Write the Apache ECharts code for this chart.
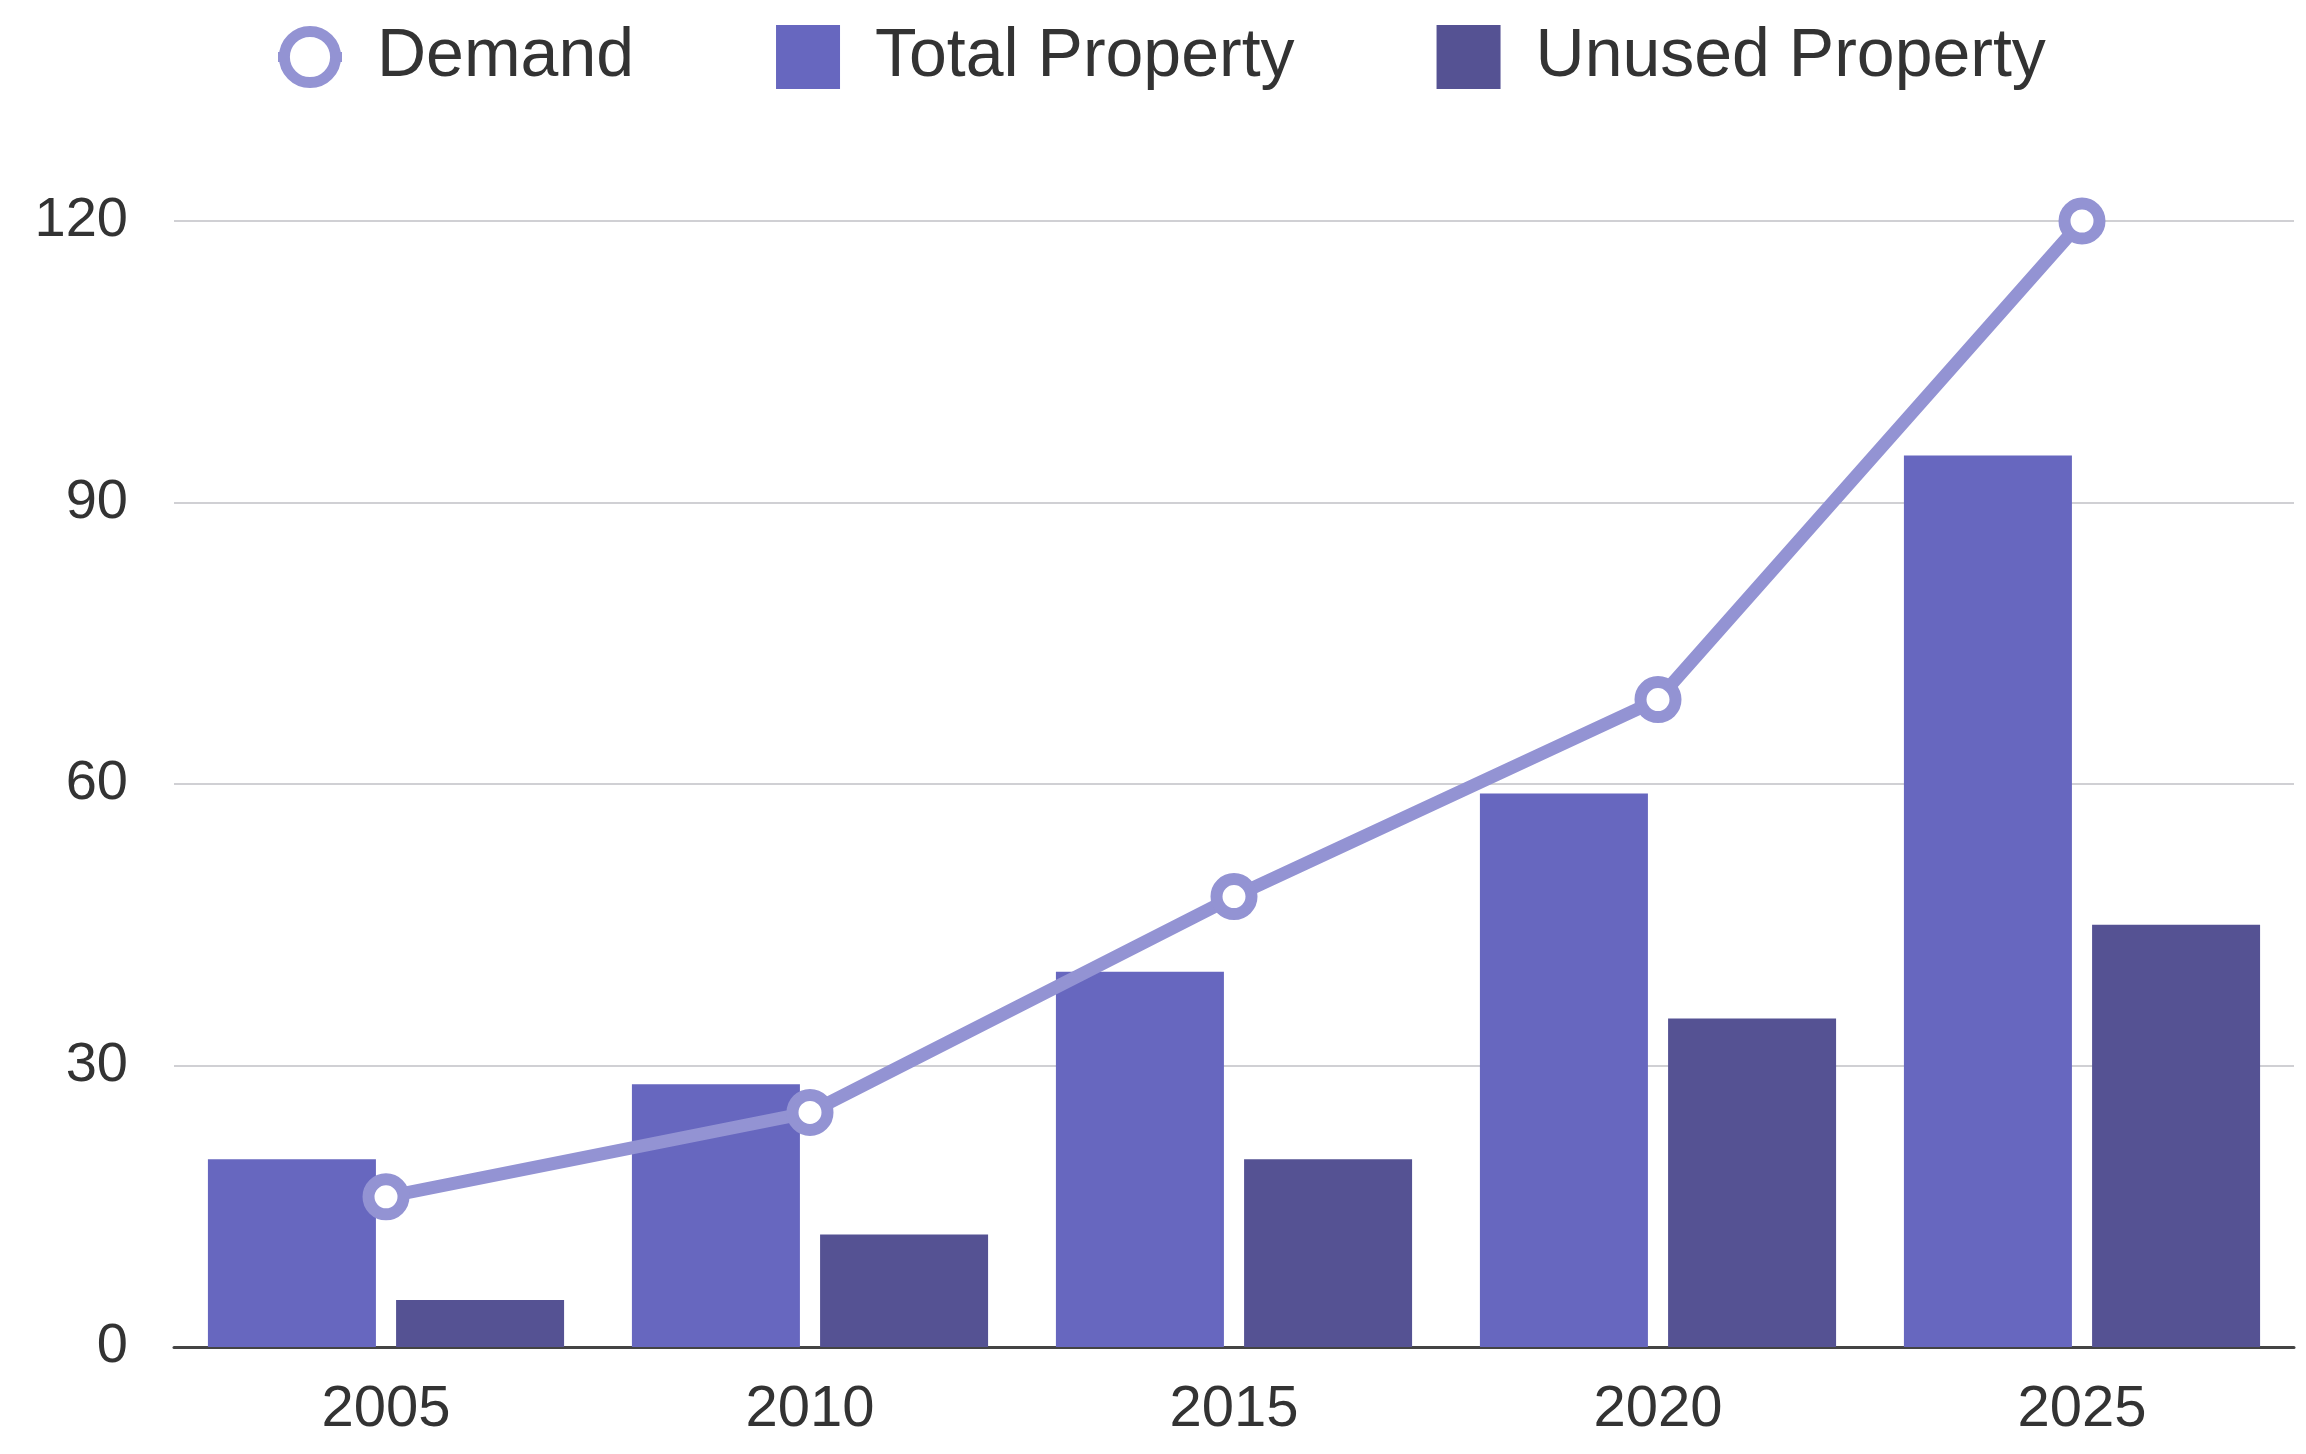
<!DOCTYPE html>
<html>
<head>
<meta charset="utf-8">
<script src="https://cdn.jsdelivr.net/npm/echarts@6/dist/echarts.min.js"></script>
<style>
html,body{margin:0;padding:0;background:#fff;}
#chart{width:2306px;height:1454px;}
</style>
</head>
<body>
<div id="chart"></div>
<script>
const categories = ['2005', '2010', '2015', '2020', '2025'];
const demand = [16, 25, 48, 69, 120];
const totalProperty = [20, 28, 40, 59, 95];
const unusedProperty = [5, 12, 20, 35, 45];
const yTicks = { min: 0, max: 120, interval: 30 };

const FONT = "'Liberation Sans', Arial, Helvetica, sans-serif";
const LINE_COLOR = '#9393D3';
const chart = echarts.init(document.getElementById('chart'), null, { renderer: 'canvas' });
chart.setOption({
  backgroundColor: '#ffffff',
  animation: false,
  legend: {
    top: 18,
    left: 268,
    itemWidth: 64,
    itemHeight: 64,
    itemGap: 142,
    textStyle: { fontFamily: FONT, fontSize: 68, color: '#333333', padding: [0, 0, 0, 30] },
    data: [
      {
        name: 'Demand',
        itemStyle: { color: '#ffffff', borderColor: LINE_COLOR, borderWidth: 11 },
        lineStyle: { color: LINE_COLOR, width: 10 }
      },
      { name: 'Total Property', icon: 'rect' },
      { name: 'Unused Property', icon: 'rect' }
    ]
  },
  grid: { left: 174, right: 12, top: 221, bottom: 107, containLabel: false },
  xAxis: {
    type: 'category',
    data: categories,
    boundaryGap: true,
    axisTick: { show: false },
    axisLine: { show: true, lineStyle: { color: '#444444', width: 3 } },
    axisLabel: { fontFamily: FONT, fontSize: 58, color: '#333333', margin: 34 }
  },
  yAxis: {
    type: 'value',
    min: yTicks.min,
    max: yTicks.max,
    interval: yTicks.interval,
    axisLine: { show: false },
    axisTick: { show: false },
    splitLine: { lineStyle: { color: '#d0d0d4', width: 2 } },
    axisLabel: { fontFamily: FONT, fontSize: 56, color: '#333333', margin: 46 }
  },
  series: [
    {
      name: 'Total Property',
      type: 'bar',
      data: totalProperty,
      barWidth: 168,
      barGap: '12%',
      itemStyle: { color: '#6767BF' },
      z: 2
    },
    {
      name: 'Unused Property',
      type: 'bar',
      data: unusedProperty,
      barWidth: 168,
      barGap: '12%',
      itemStyle: { color: '#555293' },
      z: 2
    },
    {
      name: 'Demand',
      type: 'line',
      data: demand,
      symbol: 'circle',
      symbolSize: 35,
      lineStyle: { color: LINE_COLOR, width: 13 },
      itemStyle: { color: '#ffffff', borderColor: LINE_COLOR, borderWidth: 12 },
      z: 5
    }
  ]
});
</script>
</body>
</html>
